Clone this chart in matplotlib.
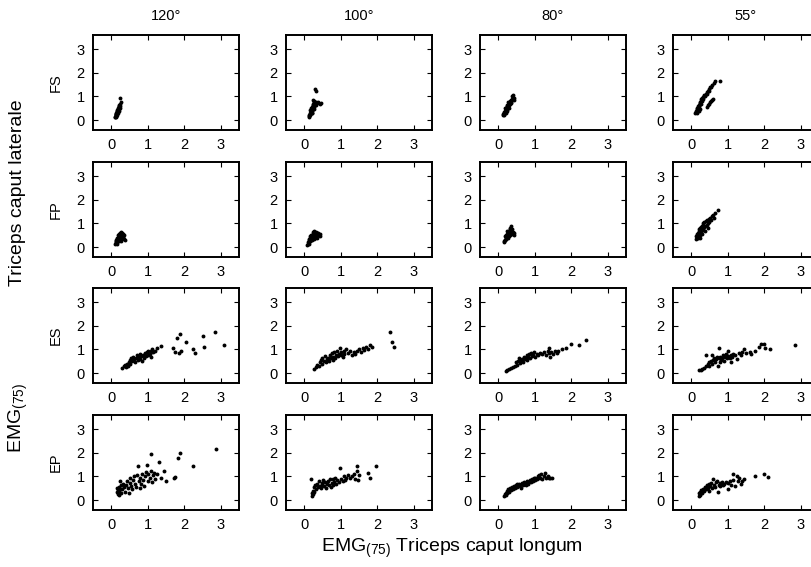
import numpy as np
import matplotlib
matplotlib.use("Agg")
import matplotlib.pyplot as plt

plt.rcParams['font.family'] = ['Liberation Sans', 'DejaVu Sans']
plt.rcParams['mathtext.fontset'] = 'custom'
plt.rcParams['mathtext.rm'] = 'Liberation Sans'
plt.rcParams['mathtext.it'] = 'Liberation Sans'

angles = ["120°", "100°", "80°", "55°"]
conditions = ["FS", "FP", "ES", "EP"]
ticks = [0, 1, 2, 3]
tick_labels = ["0", "1", "2", "3"]

# (caput longum, caput laterale) pairs, one list per condition/angle
fs_120 = [(0.10,0.12),(0.11,0.15),(0.12,0.18),(0.12,0.22),(0.13,0.20),(0.13,0.26),(0.14,0.24),(0.14,0.30),
          (0.15,0.28),(0.15,0.34),(0.16,0.32),(0.16,0.38),(0.17,0.36),(0.17,0.42),(0.18,0.40),(0.18,0.46),
          (0.19,0.44),(0.19,0.50),(0.20,0.48),(0.20,0.54),(0.21,0.52),(0.21,0.58),(0.22,0.56),(0.22,0.62),
          (0.23,0.60),(0.24,0.66),(0.25,0.92),(0.26,0.75),(0.12,0.14),(0.15,0.22),(0.18,0.30),(0.21,0.40),
          (0.24,0.50),(0.14,0.18),(0.17,0.28)]
fs_100 = [(0.12,0.12),(0.14,0.18),(0.15,0.25),(0.16,0.30),(0.17,0.22),(0.18,0.35),(0.19,0.40),(0.20,0.28),
          (0.20,0.45),(0.21,0.50),(0.22,0.38),(0.22,0.55),(0.23,0.60),(0.24,0.48),(0.25,0.65),(0.25,0.70),
          (0.26,0.55),(0.27,0.75),(0.28,0.62),(0.28,0.80),(0.30,0.70),(0.30,1.30),(0.31,1.22),(0.32,0.78),
          (0.33,0.65),(0.35,0.72),(0.38,0.75),(0.42,0.70),(0.45,0.72),(0.18,0.50),(0.24,0.85),(0.13,0.20),
          (0.16,0.42),(0.21,0.32),(0.27,0.45)]
fs_80 = [(0.12,0.20),(0.14,0.25),(0.15,0.30),(0.16,0.22),(0.17,0.35),(0.18,0.30),(0.19,0.40),(0.20,0.45),
         (0.21,0.38),(0.22,0.50),(0.23,0.55),(0.24,0.45),(0.25,0.60),(0.26,0.52),(0.27,0.65),(0.28,0.58),
         (0.29,0.70),(0.30,0.62),(0.31,0.75),(0.32,0.68),(0.33,0.80),(0.34,0.72),(0.35,0.85),(0.36,0.78),
         (0.37,0.90),(0.38,1.00),(0.40,1.08),(0.42,0.95),(0.44,0.85),(0.20,0.28),(0.25,0.40),(0.30,0.50),
         (0.18,0.50),(0.23,0.65),(0.28,0.78)]
fs_55 = [(0.10,0.30),(0.12,0.35),(0.14,0.40),(0.15,0.45),(0.17,0.50),(0.18,0.42),(0.19,0.58),(0.20,0.52),
         (0.21,0.65),(0.22,0.60),(0.23,0.72),(0.24,0.68),(0.25,0.78),(0.26,0.70),(0.27,0.82),(0.28,0.88),
         (0.29,0.80),(0.30,0.92),(0.32,0.98),(0.33,0.90),(0.35,1.02),(0.36,1.08),(0.38,1.00),(0.40,1.12),
         (0.42,1.18),(0.44,1.10),(0.46,1.22),(0.48,1.30),(0.50,1.25),(0.52,1.38),(0.55,1.42),(0.58,1.50),
         (0.62,1.55),(0.65,1.65),(0.78,1.65),(0.42,0.55),(0.45,0.62),(0.48,0.68),(0.52,0.75),(0.55,0.80),
         (0.58,0.85),(0.60,0.90),(0.16,0.30),(0.25,0.48),(0.20,0.38)]

fp_120 = [(0.10,0.15),(0.12,0.20),(0.13,0.25),(0.14,0.18),(0.15,0.30),(0.16,0.22),(0.17,0.35),(0.18,0.28),
          (0.19,0.40),(0.20,0.32),(0.21,0.45),(0.22,0.38),(0.23,0.50),(0.24,0.42),(0.25,0.55),(0.26,0.48),
          (0.27,0.35),(0.28,0.52),(0.29,0.58),(0.30,0.45),(0.31,0.40),(0.32,0.55),(0.34,0.50),(0.36,0.35),
          (0.38,0.30),(0.15,0.40),(0.18,0.50),(0.20,0.55),(0.23,0.60),(0.26,0.62),(0.12,0.30),(0.17,0.15),
          (0.22,0.25),(0.28,0.25),(0.33,0.42)]
fp_100 = [(0.08,0.10),(0.10,0.15),(0.11,0.22),(0.12,0.12),(0.13,0.28),(0.14,0.20),(0.15,0.32),(0.16,0.25),
          (0.17,0.38),(0.18,0.30),(0.19,0.42),(0.20,0.35),(0.21,0.48),(0.22,0.40),(0.23,0.55),(0.24,0.45),
          (0.25,0.62),(0.26,0.50),(0.27,0.70),(0.28,0.42),(0.30,0.55),(0.31,0.65),(0.32,0.48),(0.34,0.60),
          (0.36,0.52),(0.38,0.58),(0.40,0.50),(0.42,0.45),(0.44,0.55),(0.15,0.45),(0.18,0.52),(0.22,0.28),
          (0.26,0.35),(0.30,0.38),(0.35,0.40),(0.12,0.35)]
fp_80 = [(0.15,0.20),(0.17,0.25),(0.18,0.32),(0.19,0.28),(0.20,0.38),(0.21,0.45),(0.22,0.35),(0.23,0.50),
         (0.24,0.42),(0.25,0.55),(0.26,0.48),(0.27,0.62),(0.28,0.52),(0.29,0.68),(0.30,0.58),(0.31,0.75),
         (0.32,0.65),(0.33,0.82),(0.34,0.70),(0.35,0.90),(0.36,0.60),(0.37,0.78),(0.38,0.55),(0.40,0.65),
         (0.42,0.50),(0.44,0.58),(0.20,0.52),(0.25,0.68),(0.30,0.45),(0.18,0.45),(0.28,0.38),(0.33,0.50)]
fp_55 = [(0.12,0.35),(0.14,0.45),(0.15,0.55),(0.16,0.40),(0.18,0.60),(0.19,0.50),(0.20,0.68),(0.21,0.58),
         (0.22,0.75),(0.23,0.62),(0.24,0.80),(0.25,0.52),(0.26,0.70),(0.27,0.85),(0.28,0.65),(0.29,0.90),
         (0.30,0.72),(0.31,0.95),(0.32,0.78),(0.33,1.00),(0.35,0.85),(0.36,1.05),(0.38,0.90),(0.40,1.10),
         (0.42,0.95),(0.44,1.15),(0.46,1.00),(0.48,1.20),(0.50,1.08),(0.52,1.25),(0.55,1.15),(0.58,1.30),
         (0.60,1.35),(0.65,1.45),(0.72,1.58),(0.62,1.22),(0.45,0.80),(0.38,0.70),(0.20,0.45),(0.30,0.55),
         (0.18,0.38),(0.25,0.40)]

es_120 = [(0.30,0.22),(0.35,0.28),(0.38,0.35),(0.40,0.25),(0.42,0.40),(0.45,0.32),(0.48,0.45),(0.50,0.55),
          (0.52,0.38),(0.55,0.62),(0.58,0.50),(0.60,0.70),(0.62,0.58),(0.65,0.48),(0.68,0.65),(0.70,0.75),
          (0.72,0.55),(0.75,0.68),(0.78,0.80),(0.80,0.60),(0.82,0.72),(0.85,0.50),(0.88,0.78),(0.90,0.65),
          (0.92,0.85),(0.95,0.72),(0.98,0.88),(1.00,0.78),(1.02,0.95),(1.05,0.82),(1.08,0.92),(1.10,0.70),
          (1.12,1.00),(1.15,0.88),(1.20,0.95),(1.25,1.05),(1.35,1.15),(1.70,1.05),(1.75,0.90),(1.80,1.50),
          (1.85,0.85),(1.88,1.65),(1.92,0.95),(2.05,1.30),(2.25,1.00),(2.30,0.85),(2.50,1.55),(2.55,1.10),
          (2.85,1.75),(3.10,1.20)]
es_100 = [(0.28,0.18),(0.32,0.25),(0.35,0.35),(0.40,0.30),(0.42,0.45),(0.45,0.55),(0.48,0.40),(0.50,0.62),
          (0.55,0.50),(0.58,0.72),(0.60,0.45),(0.62,0.58),(0.65,0.65),(0.68,0.52),(0.70,0.75),(0.72,0.62),
          (0.75,0.85),(0.78,0.55),(0.80,0.70),(0.82,0.90),(0.85,0.65),(0.88,0.78),(0.90,0.95),(0.92,0.72),
          (0.95,0.82),(0.98,1.05),(1.00,0.75),(1.02,0.88),(1.05,0.68),(1.08,0.95),(1.10,0.80),(1.15,1.00),
          (1.20,0.85),(1.25,0.92),(1.30,0.75),(1.35,0.88),(1.40,0.80),(1.45,0.95),(1.50,1.00),(1.55,0.90),
          (1.60,1.05),(1.65,0.98),(1.70,1.10),(1.75,1.00),(1.80,1.20),(1.85,1.10),(2.35,1.75),(2.40,1.32),
          (2.45,1.12)]
es_80 = [(0.20,0.10),(0.25,0.15),(0.30,0.18),(0.35,0.20),(0.40,0.25),(0.45,0.30),(0.48,0.45),(0.52,0.35),
         (0.55,0.50),(0.58,0.65),(0.60,0.42),(0.62,0.55),(0.65,0.60),(0.68,0.48),(0.70,0.70),(0.72,0.58),
         (0.75,0.65),(0.78,0.75),(0.80,0.55),(0.82,0.68),(0.85,0.80),(0.88,0.65),(0.90,0.85),(0.92,0.72),
         (0.95,0.78),(0.98,0.90),(1.00,0.70),(1.05,0.82),(1.10,0.75),(1.15,0.85),(1.20,0.80),(1.25,0.90),
         (1.30,0.78),(1.35,0.95),(1.38,0.85),(1.40,1.05),(1.42,0.70),(1.45,0.88),(1.50,0.80),(1.55,0.95),
         (1.60,0.85),(1.65,0.92),(1.75,1.00),(1.85,1.08),(1.98,1.25),(2.20,1.18),(2.40,1.40)]
es_55 = [(0.22,0.12),(0.26,0.15),(0.30,0.18),(0.35,0.22),(0.40,0.30),(0.41,0.78),(0.45,0.38),(0.48,0.45),
         (0.50,0.32),(0.55,0.50),(0.57,0.78),(0.58,0.40),(0.60,0.55),(0.62,0.62),(0.65,0.45),(0.68,0.58),
         (0.70,0.68),(0.72,0.30),(0.75,1.07),(0.75,0.62),(0.78,0.48),(0.80,0.70),(0.82,0.55),(0.85,0.65),
         (0.88,0.75),(0.90,0.52),(0.92,0.68),(0.95,0.80),(0.98,0.62),(1.00,0.72),(1.02,0.95),(1.05,0.65),
         (1.08,0.78),(1.10,0.45),(1.12,0.70),(1.15,0.82),(1.20,0.75),(1.25,0.60),(1.30,0.85),(1.35,0.78),
         (1.40,0.90),(1.45,1.00),(1.50,0.85),(1.60,0.90),(1.65,0.82),(1.75,0.95),(1.85,1.10),(1.92,1.25),
         (2.00,1.22),(2.02,1.05),(2.15,1.00),(2.85,1.18)]

ep_120 = [(0.15,0.35),(0.15,0.50),(0.18,0.25),(0.18,0.42),(0.20,0.30),(0.20,0.55),(0.22,0.20),(0.22,0.38),
          (0.25,0.48),(0.25,0.80),(0.28,0.30),(0.28,0.62),(0.30,0.45),(0.32,0.70),(0.35,0.55),(0.38,0.35),
          (0.40,0.65),(0.42,0.80),(0.45,0.50),(0.48,0.30),(0.50,0.72),(0.52,0.95),(0.55,0.60),(0.58,0.45),
          (0.60,0.85),(0.62,1.00),(0.65,0.70),(0.68,0.55),(0.70,1.05),(0.72,1.44),(0.75,0.80),(0.78,0.50),
          (0.80,0.95),(0.82,0.68),(0.85,1.10),(0.88,0.85),(0.90,0.60),(0.92,1.00),(0.95,1.20),(0.99,1.48),
          (1.00,0.80),(1.02,1.10),(1.05,0.95),(1.08,1.97),(1.10,1.25),(1.12,0.75),(1.15,1.05),(1.18,1.15),
          (1.20,0.90),(1.25,1.10),(1.30,1.62),(1.35,0.95),(1.44,1.22),(1.49,0.80),(1.73,0.92),(1.76,0.97),
          (1.83,1.76),(1.89,2.00),(2.23,1.44),(2.86,2.15)]
ep_100 = [(0.19,0.89),(0.20,0.30),(0.22,0.18),(0.24,0.40),(0.25,0.25),(0.27,0.55),(0.28,0.35),(0.30,0.65),
          (0.32,0.45),(0.35,0.70),(0.38,0.55),(0.40,0.80),(0.42,0.60),(0.45,0.50),(0.48,0.72),(0.50,0.65),
          (0.52,0.85),(0.55,0.58),(0.58,0.75),(0.60,0.50),(0.62,0.68),(0.65,0.80),(0.68,0.62),(0.70,0.88),
          (0.72,0.55),(0.75,0.72),(0.78,0.90),(0.80,0.65),(0.82,0.78),(0.85,0.95),(0.88,0.70),(0.90,0.85),
          (0.95,0.75),(0.97,1.34),(1.00,0.90),(1.05,0.80),(1.08,1.00),(1.12,0.85),(1.15,0.95),(1.20,1.08),
          (1.25,0.92),(1.30,1.00),(1.35,1.12),(1.40,0.90),(1.44,1.45),(1.45,1.25),(1.48,0.85),(1.50,1.05),
          (1.76,1.13),(1.81,0.92),(1.97,1.45)]
ep_80 = [(0.15,0.18),(0.18,0.25),(0.20,0.32),(0.22,0.22),(0.24,0.40),(0.25,0.30),(0.28,0.45),(0.30,0.35),
         (0.32,0.50),(0.35,0.42),(0.38,0.55),(0.40,0.48),(0.42,0.60),(0.45,0.52),(0.48,0.62),(0.50,0.55),
         (0.52,0.68),(0.55,0.58),(0.58,0.70),(0.60,0.62),(0.62,0.52),(0.65,0.72),(0.68,0.65),(0.70,0.78),
         (0.72,0.68),(0.75,0.62),(0.78,0.75),(0.80,0.82),(0.82,0.70),(0.85,0.78),(0.88,0.85),(0.90,0.75),
         (0.92,0.88),(0.95,0.80),(0.98,0.92),(1.00,0.85),(1.02,0.95),(1.05,0.88),(1.08,1.00),(1.10,0.92),
         (1.12,1.05),(1.15,0.95),(1.18,1.10),(1.20,0.90),(1.25,1.02),(1.28,1.15),(1.30,0.95),(1.35,1.00),
         (1.38,0.92),(1.42,0.95),(1.48,0.92)]
ep_55 = [(0.20,0.18),(0.22,0.28),(0.24,0.35),(0.25,0.22),(0.28,0.42),(0.30,0.30),(0.32,0.48),(0.35,0.38),
         (0.38,0.55),(0.40,0.45),(0.42,0.62),(0.45,0.50),(0.48,0.68),(0.50,0.40),(0.52,0.58),(0.55,0.72),
         (0.58,0.50),(0.60,0.88),(0.62,0.62),(0.65,0.55),(0.68,0.75),(0.70,0.80),(0.72,0.35),(0.75,0.65),
         (0.78,0.72),(0.80,0.58),(0.82,0.68),(0.85,0.78),(0.88,0.62),(0.90,0.70),(0.95,0.75),(1.00,0.48),
         (1.02,0.72),(1.05,0.80),(1.10,0.65),(1.14,1.10),(1.15,0.85),(1.20,0.58),(1.25,1.00),(1.28,0.82),
         (1.30,0.95),(1.35,0.70),(1.40,0.80),(1.45,0.90),(1.74,1.02),(1.99,1.10),(2.09,0.98)]

grid = [[fs_120, fs_100, fs_80, fs_55],
        [fp_120, fp_100, fp_80, fp_55],
        [es_120, es_100, es_80, es_55],
        [ep_120, ep_100, ep_80, ep_55]]

W, H = 812, 567
fig = plt.figure(figsize=(W / 100, H / 100), dpi=100)

col_left = [93, 286, 480, 673]
row_top = [35, 162, 288, 415]
pw, ph = 146, 95

for r in range(4):
    for c in range(4):
        ax = fig.add_axes([col_left[c] / W, 1 - (row_top[r] + ph) / H, pw / W, ph / H])
        pts = np.array(grid[r][c])
        ax.plot(pts[:, 0], pts[:, 1], 'o', color='black', markersize=2.8,
                markeredgewidth=0, linestyle='none')
        ax.set_xlim(-0.5, 3.5)
        ax.set_ylim(-0.42, 3.6)
        ax.set_xticks(ticks)
        ax.set_xticklabels(tick_labels)
        ax.set_yticks(ticks)
        ax.set_yticklabels(tick_labels)
        ax.tick_params(direction='in', top=True, right=True, length=3.5, width=0.8,
                       labelsize=10.5, pad=6)
        for s in ax.spines.values():
            s.set_linewidth(1.4)
        if c == 0:
            ax.set_ylabel(conditions[r], fontsize=10.5, labelpad=10)
        if r == 0:
            ax.set_title(angles[c], fontsize=10.5, pad=11)

fig.text(18 / W, 1 - 418 / H, "EMG$_{(75)}$", rotation=90, fontsize=14,
         ha='center', va='center')
fig.text(18 / W, 1 - 193 / H, "Triceps caput laterale", rotation=90, fontsize=14,
         ha='center', va='center')
fig.text(452 / W, 1 - 548 / H, "EMG$_{(75)}$ Triceps caput longum", fontsize=14,
         ha='center', va='center')

fig.savefig("out.png", dpi=100)
